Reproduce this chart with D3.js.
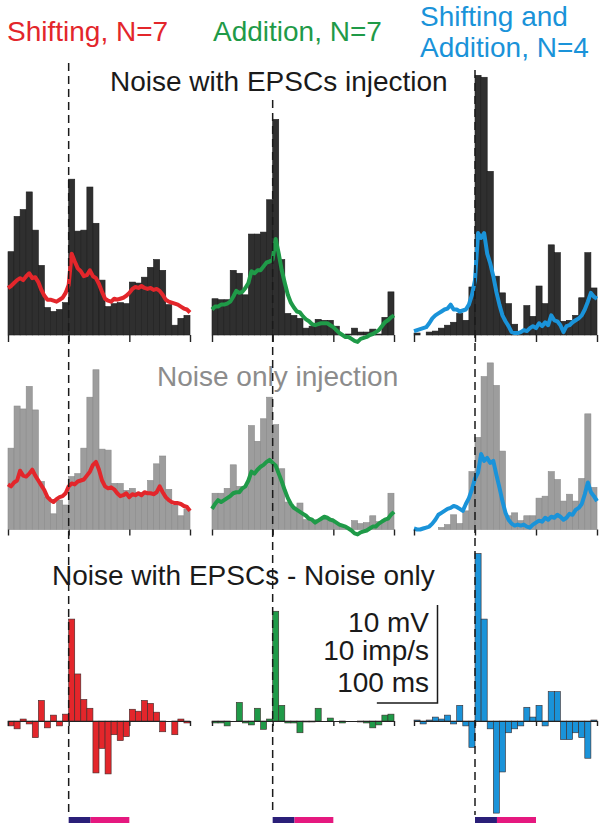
<!DOCTYPE html>
<html>
<head>
<meta charset="utf-8">
<script src="https://cdn.jsdelivr.net/npm/d3@7"></script>
<style>
  body { margin: 0; background: #fff; }
  svg { display: block; }
</style>
</head>
<body>
<div id="chart"></div>
<script>
'use strict';

// 10 ms bins, start of each bin (ms, 0 = EPSC onset)
const binStarts = [-100, -90, -80, -70, -60, -50, -40, -30, -20, -10,
    0, 10, 20, 30, 40, 50, 60, 70, 80, 90,
    100, 110, 120, 130, 140, 150, 160, 170, 180, 190];
// sample times of the averaged membrane potential traces (ms)
const traceTimes = [-100, -95, -90, -85, -80, -75, -70, -65, -60, -55, -50, -45, -40, -35, -30, -25, -20, -15, -10, -5,
    0, 5, 10, 15, 20, 25, 30, 35, 40, 45, 50, 55, 60, 65, 70, 75, 80, 85, 90, 95,
    100, 105, 110, 115, 120, 125, 130, 135, 140, 145, 150, 155, 160, 165, 170, 175, 180, 185, 190, 195, 200];
const tickValues = [-100, 0, 100, 200];

// --- Noise with EPSCs injection: PSTH (imp/s) ---
const shiftNoiseEpsc = [8.5, 12.1, 12.8, 14.6, 10.7, 7.1, 2.8, 2.4, 2.6, 3.3, 15.9, 10.6, 10.7, 15.1, 11.4, 5.6, 2.9, 3.2, 3.3, 3.2, 5.4, 5.3, 5.9, 6.9, 7.7, 6.6, 3.1, 1.0, 1.7, 2.0];
const addNoiseEpsc = [3.7, 3.6, 3.6, 6.6, 6.3, 4.1, 10.3, 10.3, 10.5, 13.8, 22.0, 7.7, 2.2, 2.0, 1.7, 0.7, 0.9, 1.6, 1.5, 1.5, 0.9, 0, 0.1, 0.7, 0.3, 0.3, 0.6, 0.1, 1.8, 4.4];
const bothNoiseEpsc = [0.2, 0, 0.3, 0.4, 0.7, 1.0, 1.3, 2.2, 1.5, 4.9, 26.5, 26.3, 16.7, 6.0, 4.3, 3.2, 1.1, 0.3, 3.0, 1.9, 5.0, 3.2, 9.2, 8.4, 1.4, 1.5, 2.0, 3.8, 8.4, 4.8];
// averaged Vm (mV above panel baseline)
const shiftTraceEpsc = [4.8, 5.0, 5.3, 5.6, 5.8, 5.6, 6.0, 6.3, 5.8, 5.9, 5.4, 4.6, 4.0, 3.6, 3.6, 3.5, 3.4, 3.6, 3.8, 4.3,
    5.1, 8.3, 7.5, 6.8, 6.5, 6.0, 6.1, 6.6, 6.0, 5.8, 5.2, 4.4, 3.7, 3.5, 3.4, 3.7, 3.6, 3.7, 3.8, 4.0,
    4.3, 4.7, 4.9, 4.8, 5.0, 4.8, 4.7, 4.8, 4.6, 4.7, 4.5, 4.1, 3.6, 3.4, 3.3, 3.2, 3.1, 2.9, 2.7, 2.6, 2.3];
const addTraceEpsc = [2.6, 2.9, 2.9, 3.1, 3.1, 3.2, 3.4, 3.9, 4.5, 4.3, 4.4, 4.8, 5.3, 6.5, 6.3, 6.6, 6.6, 7.0, 7.4, 7.5,
    7.7, 9.8, 8.3, 6.6, 5.3, 4.1, 3.3, 2.8, 2.4, 2.3, 1.9, 1.6, 1.4, 1.1, 1.0, 1.1, 1.2, 1.2, 1.2, 1.0,
    0.8, 0.5, 0.2, 0, -0.2, -0.2, -0.4, -0.6, -0.7, -0.4, -0.3, -0.2, 0, 0.1, 0.3, 0.5, 0.9, 1.3, 1.5, 1.8, 2.0];
const bothTraceEpsc = [0.4, 0.5, 0.6, 0.7, 0.8, 1.2, 1.7, 2.0, 2.2, 2.4, 2.6, 2.7, 3.1, 2.6, 2.6, 2.4, 2.5, 2.6, 3.1, 4.1,
    5.6, 10.4, 9.9, 10.4, 8.3, 7.3, 6.0, 4.4, 3.1, 2.0, 1.4, 0.9, 0.3, 0.2, 0.2, 0.3, 0.5, 0.4, 0.7, 0.9,
    0.7, 1.2, 0.9, 1.3, 1.0, 2.0, 1.5, 1.4, 1.0, 0.3, 0.9, 1.0, 1.3, 1.5, 1.7, 2.0, 2.6, 3.4, 4.3, 3.9, 3.7];

// --- Noise only injection ---
const shiftNoiseOnly = [8.3, 12.6, 12.3, 14.6, 12.2, 4.9, 3.3, 1.6, 3.0, 2.5, 5.4, 5.7, 8.3, 13.5, 16.3, 8.2, 8.1, 4.7, 4.7, 4.0, 4.2, 3.8, 3.8, 5.0, 6.7, 7.5, 4.1, 2.5, 1.4, 2.1];
const addNoiseOnly = [3.7, 3.7, 4.2, 6.6, 4.4, 4.4, 10.6, 9.0, 11.3, 13.5, 10.7, 6.2, 2.8, 2.3, 2.7, 1.0, 0.95, 1.0, 1.3, 1.1, 0.6, 0.3, 0.1, 0.9, 0.6, 0.7, 1.4, 0.8, 1.0, 3.7];
const bothNoiseOnly = [0, 0, 0, 0, 0.2, 0.5, 1.5, 0.6, 1.9, 5.9, 9.4, 15.6, 17.0, 14.7, 8.0, 1.4, 1.7, 0.9, 1.4, 1.4, 3.2, 3.4, 5.9, 5.1, 2.9, 3.6, 2.9, 5.2, 11.8, 4.3];
const shiftTraceNoise = [4.6, 4.4, 4.8, 5.0, 6.0, 5.5, 5.4, 5.7, 6.1, 5.5, 5.0, 4.5, 4.0, 3.3, 3.0, 2.8, 3.1, 3.3, 3.4, 3.7,
    4.4, 4.7, 4.6, 4.9, 5.0, 5.1, 5.5, 5.9, 6.6, 6.9, 6.1, 5.0, 4.4, 4.2, 4.3, 4.1, 3.7, 3.4, 3.5, 3.7,
    3.3, 3.6, 3.5, 3.7, 3.5, 3.8, 3.7, 3.7, 3.6, 3.8, 4.4, 3.8, 3.3, 3.0, 2.8, 2.7, 2.7, 2.6, 2.4, 2.3, 1.9];
const addTraceNoise = [2.1, 2.6, 3.0, 2.8, 3.0, 3.2, 3.4, 3.7, 3.8, 3.8, 4.2, 4.4, 5.0, 5.9, 5.7, 6.1, 6.4, 6.6, 6.9, 7.1,
    6.8, 6.5, 5.7, 4.9, 4.0, 3.2, 2.6, 2.2, 2.0, 1.8, 1.6, 1.4, 1.1, 1.0, 0.7, 0.9, 1.1, 1.3, 1.2, 1.0,
    0.9, 0.7, 0.5, 0.4, 0.3, 0.1, -0.1, -0.4, -0.5, -0.3, -0.2, -0.1, 0.1, 0.3, 0.3, 0.6, 0.8, 1.0, 1.1, 1.5, 1.8];
const bothTraceNoise = [0.1, 0, 0, 0.1, 0.2, 0.3, 0.6, 1.0, 1.5, 1.7, 1.9, 2.1, 2.2, 2.4, 2.3, 2.1, 1.9, 2.6, 3.2, 4.1,
    5.2, 5.8, 7.7, 7.0, 7.3, 6.8, 7.0, 5.6, 4.3, 2.9, 1.7, 1.0, 0.6, 0.4, 0.5, 0.4, 0.5, 0.3, 0.2, 0.5,
    0.7, 0.9, 0.8, 1.2, 1.0, 1.3, 1.2, 1.5, 1.3, 1.0, 1.2, 1.6, 1.5, 2.0, 2.2, 2.6, 3.6, 4.8, 3.8, 3.4, 2.9];

// --- Noise with EPSCs - Noise only (imp/s) ---
const shiftDiff = [-0.5, -0.8, 0.2, -0.3, -1.7, 2.1, -0.7, 0.6, -0.5, 0.7, 10.4, 4.8, 2.2, 1.3, -5.3, -2.8, -5.4, -1.4, -2.0, -1.6, 1.2, 1.0, 2.1, 1.8, 0.9, -1.1, 0, -1.4, 0.2, -0.2];
const addDiff = [-0.2, -0.2, -0.5, 0, 1.9, -0.2, -0.4, 1.3, -0.85, 0.2, 11.2, 1.6, -0.2, -0.2, -1.2, -0.1, -0.1, 1.3, 0, 0.3, 0, -0.2, 0, 0, -0.1, -0.2, -0.7, -0.4, 0.6, 0.7];
const bothDiff = [0.1, -0.3, 0.1, 0.4, 0.2, 0.6, -0.3, 1.6, -0.5, -2.7, 17.1, 10.4, -0.8, -9.4, -5.2, -1.2, -0.8, -0.5, 1.4, 0.4, 1.6, -0.5, 3.0, 3.0, -1.9, -1.9, -1.2, -1.7, -3.8, 0.1];

// stimulus epochs under each column (ms)
const epochs = [[0, 36], [36, 100]];
const epochColors = ['#2a1f78', '#e5187f'];

const groupTitles = [['Shifting, N=7'], ['Addition, N=7'], ['Shifting and', 'Addition, N=4']];
const rowTitles = ['Noise with EPSCs injection', 'Noise only injection', 'Noise with EPSCs - Noise only'];
const scaleLabels = ['10 mV', '10 imp/s', '100 ms'];

// ---------------------------------------------------------------
const W = 604, H = 832;
const font = '"Liberation Sans", Arial, Helvetica, sans-serif';
const svg = d3.select('#chart').append('svg')
    .attr('width', W)
    .attr('height', H)
    .style('font-family', font);

const columns = [
    {range: [8, 190], color: '#e3262b', dashTop: 63, titleX: 7, titleY: 41},
    {range: [212, 394], color: '#1f9a48', dashTop: 100, titleX: 213, titleY: 41},
    {range: [414, 597], color: '#1a93d9', dashTop: 70, titleX: 420, titleY: 26}
];
columns.forEach(c => {
    c.x = d3.scaleLinear().domain([-100, 200]).range(c.range);
});

const rows = [
    {baseline: 335, bars: [shiftNoiseEpsc, addNoiseEpsc, bothNoiseEpsc],
     traces: [shiftTraceEpsc, addTraceEpsc, bothTraceEpsc], fill: '#2f2f2f', stroke: '#1c1c1c', tick: 7,
     title: {x: 110, y: 91, color: '#1a1a1a'}},
    {baseline: 529.5, bars: [shiftNoiseOnly, addNoiseOnly, bothNoiseOnly],
     traces: [shiftTraceNoise, addTraceNoise, bothTraceNoise], fill: '#9d9d9d', stroke: '#8a8a8a', tick: 6,
     title: {x: 157, y: 386, color: '#8c8c8c'}},
    {baseline: 721, bars: [shiftDiff, addDiff, bothDiff], traces: null, tick: 5, axisLine: true,
     title: {x: 52, y: 585, color: '#1a1a1a'}}
];
// 10 imp/s (and 10 mV) = 98 px, same for every row
rows.forEach(r => {
    r.y = d3.scaleLinear().domain([0, 10]).range([r.baseline, r.baseline - 98]);
});

const traceLine = (x, y) => d3.line()
    .x((d, i) => x(traceTimes[i]))
    .y(d => y(d))
    .curve(d3.curveLinear);

rows.forEach((row, ri) => {
    columns.forEach((col, ci) => {
        const g = svg.append('g');
        const x = col.x, y = row.y;
        const vals = row.bars[ci];

        // histogram bars
        g.selectAll('rect')
            .data(vals)
            .join('rect')
            .attr('x', (d, i) => x(binStarts[i]))
            .attr('width', (d, i) => x(binStarts[i] + 10) - x(binStarts[i]))
            .attr('y', d => Math.min(y(d), y(0)))
            .attr('height', d => Math.abs(y(d) - y(0)))
            .attr('fill', row.fill || col.color)
            .attr('stroke', row.stroke || '#3a2a2a')
            .attr('stroke-width', 0.6);

        // membrane potential trace
        if (row.traces) {
            g.append('path')
                .attr('d', traceLine(x, y)(row.traces[ci]))
                .attr('fill', 'none')
                .attr('stroke', col.color)
                .attr('stroke-width', 4)
                .attr('stroke-linejoin', 'round');
        }

        // time axis: ticks only, plus the zero line in the difference row
        const axis = d3.axisBottom(x)
            .tickValues(tickValues)
            .tickSize(row.tick)
            .tickSizeOuter(0)
            .tickFormat('');
        const ag = svg.append('g')
            .attr('transform', `translate(0,${row.baseline})`)
            .call(axis);
        ag.selectAll('.tick line').attr('stroke', '#222').attr('stroke-width', 1.4);
        if (row.axisLine) {
            ag.select('.domain').attr('stroke', '#222').attr('stroke-width', 1.2);
        } else {
            ag.select('.domain').remove();
        }
    });

    svg.append('text')
        .attr('x', row.title.x)
        .attr('y', row.title.y)
        .attr('fill', row.title.color)
        .style('font-size', '28px')
        .text(rowTitles[ri]);
});

// EPSC onset dashed lines and stimulus epoch bars
columns.forEach((col, ci) => {
    const x0 = col.x(0);
    svg.append('line')
        .attr('x1', x0).attr('x2', x0)
        .attr('y1', col.dashTop).attr('y2', 815)
        .attr('stroke', '#1a1a1a')
        .attr('stroke-width', 1.5)
        .attr('stroke-dasharray', '8,5');

    epochs.forEach((e, ei) => {
        svg.append('rect')
            .attr('x', col.x(e[0]))
            .attr('width', col.x(e[1]) - col.x(e[0]))
            .attr('y', 817)
            .attr('height', 6)
            .attr('fill', epochColors[ei]);
    });

    const t = svg.append('text')
        .attr('x', col.titleX)
        .attr('y', col.titleY)
        .attr('fill', col.color)
        .style('font-size', '28px');
    groupTitles[ci].forEach((line, li) => {
        t.append('tspan')
            .attr('x', col.titleX)
            .attr('dy', li === 0 ? 0 : 31)
            .text(line);
    });
});

// scale bar (drawn with the difference row / middle column scales)
const sbX = 437.5, sbY = 703;
const yRow = rows[2].y, xCol = columns[1].x;
const sbV = yRow(0) - yRow(10);
const sbH = xCol(100) - xCol(0);
svg.append('path')
    .attr('d', `M${sbX},${sbY - sbV}V${sbY}H${sbX - sbH}`)
    .attr('fill', 'none')
    .attr('stroke', '#1a1a1a')
    .attr('stroke-width', 1.5);
svg.selectAll('.sblabel')
    .data(scaleLabels)
    .join('text')
    .attr('class', 'sblabel')
    .attr('x', 429)
    .attr('y', (d, i) => [632, 660, 692][i])
    .attr('text-anchor', 'end')
    .attr('fill', '#1a1a1a')
    .style('font-size', '28px')
    .text(d => d);
</script>
</body>
</html>
